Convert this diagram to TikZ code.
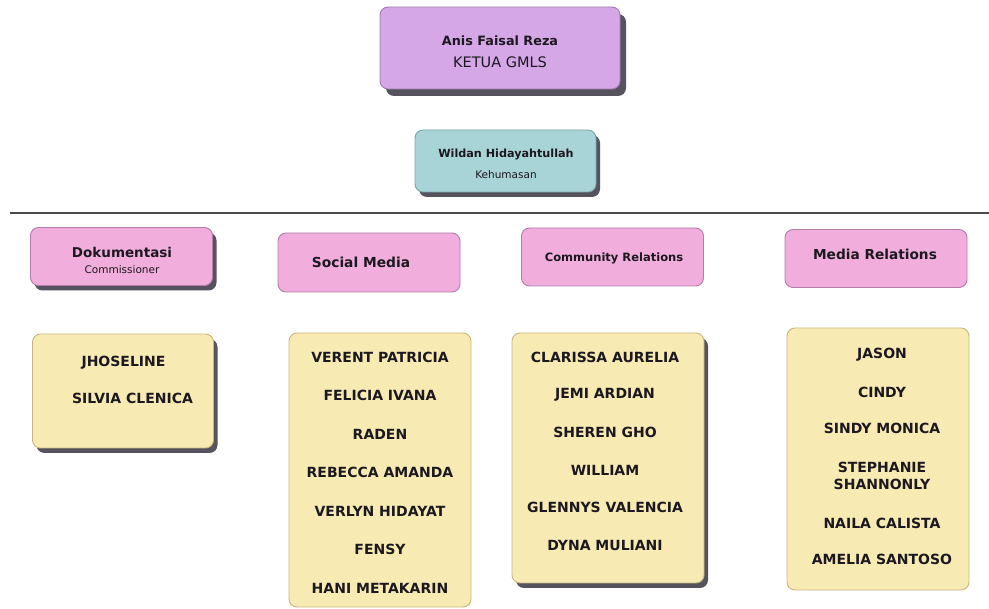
\documentclass[tikz,border=0pt]{standalone}
\usepackage{fontspec}
\setmainfont{DejaVu Sans}
\usetikzlibrary{positioning,shadows}

\definecolor{leadfill}{HTML}{D6A7E6}
\definecolor{leadline}{HTML}{A27AB3}
\definecolor{humasfill}{HTML}{A9D4D7}
\definecolor{humasline}{HTML}{76A7AB}
\definecolor{divfill}{HTML}{F1AEDC}
\definecolor{divline}{HTML}{B27DA8}
\definecolor{memfill}{HTML}{F8EAB3}
\definecolor{memline}{HTML}{C8B67E}
\definecolor{shadegray}{HTML}{57535E}
\definecolor{inkdark}{HTML}{1C1820}

\begin{document}
\begin{tikzpicture}[x=1pt, y=-1pt,
  box/.style={draw, rounded corners=8pt, line width=0.9pt, inner sep=0pt, align=center, text=inkdark},
  lead/.style={box, fill=leadfill, draw=leadline, minimum width=240pt, minimum height=82pt},
  humas/.style={box, fill=humasfill, draw=humasline, minimum width=181pt, minimum height=62pt},
  div/.style={box, fill=divfill, draw=divline, minimum width=182pt, minimum height=58pt},
  crew/.style={box, fill=memfill, draw=memline, minimum width=181pt},
  heavy/.style={drop shadow={shadow xshift=6pt, shadow yshift=-7pt, fill=shadegray, opacity=1}},
  light/.style={drop shadow={shadow xshift=4pt, shadow yshift=-5pt, fill=shadegray, opacity=1}},
  caption/.style={align=center, inner sep=0pt, text=inkdark},
  member/.style={font=\bfseries\fontsize{14}{17}\selectfont, text=inkdark, align=center, inner sep=0pt}
]
\useasboundingbox (0,0) rectangle (989,609);

% pimpinan
\node [lead, heavy] (ketua) at (500,48) {};
\node [caption] (ketuaT) at (500,52)
  {\fontsize{12.8}{15}\selectfont\bfseries Anis Faisal Reza\\[10pt]\fontsize{14.5}{17}\selectfont KETUA GMLS};
\node [humas, light] (humas) at (505.5,161) {};
\node [caption] (humasT) at (506,164)
  {\fontsize{11.2}{13}\selectfont\bfseries Wildan Hidayahtullah\\[9pt]\fontsize{10.5}{12}\selectfont Kehumasan};

% garis pemisah
\coordinate (lineL) at (10,213);
\coordinate (lineR) at (989,213);
\draw [line width=1.2pt, black!70] (lineL) -- (lineR);

% divisi
\node [div, light] (dok) at (121.5,256.5) {};
\node [caption] (dokT) at (122,260)
  {\fontsize{13.5}{16}\selectfont\bfseries Dokumentasi\\[4pt]\fontsize{10.5}{12}\selectfont Commissioner};
\node [div, minimum height=59pt] (sosmed) at (369,262.5) {};
\node [member, font=\bfseries\fontsize{13.8}{16}\selectfont] (sosmedT) at (361,262) {Social Media};
\node [div] (comrel) at (612.5,257) {};
\node [member, font=\bfseries\fontsize{11.5}{14}\selectfont] (comrelT) at (614,258) {Community Relations};
\node [div] (medrel) at (876,258.5) {};
\node [member, font=\bfseries\fontsize{13.7}{16}\selectfont] (medrelT) at (875,254) {Media Relations};

% anggota
\node [crew, light, minimum height=114pt] (dokA) at (123,391) {};
\node [crew, minimum height=274pt, minimum width=182pt] (sosA) at (380,470) {};
\node [crew, light, minimum height=250pt, minimum width=192pt] (comA) at (608,458) {};
\node [crew, minimum height=262pt, minimum width=182pt] (medA) at (878,459) {};

\node [member] (dok1) at (123.5,363) {JHOSELINE};
\node [member] (dok2) at (132.5,398) {SILVIA CLENICA};

\foreach \who/\y [count=\k] in {VERENT PATRICIA/357, FELICIA IVANA/395, RADEN/434,
    REBECCA AMANDA/472, VERLYN HIDAYAT/511, FENSY/549, HANI METAKARIN/588}
  \node [member] (sos\k) at (380,\y) {\who};

\foreach \who/\y [count=\k] in {CLARISSA AURELIA/357, JEMI ARDIAN/395, SHEREN GHO/432,
    WILLIAM/470, GLENNYS VALENCIA/507, DYNA MULIANI/545}
  \node [member] (com\k) at (605,\y) {\who};

\foreach \who/\y [count=\k] in {JASON/355, CINDY/392, SINDY MONICA/428,
    {STEPHANIE\\SHANNONLY}/475.5, NAILA CALISTA/523, AMELIA SANTOSO/559}
  \node [member] (med\k) at (882,\y) {\who};
\end{tikzpicture}
\end{document}
